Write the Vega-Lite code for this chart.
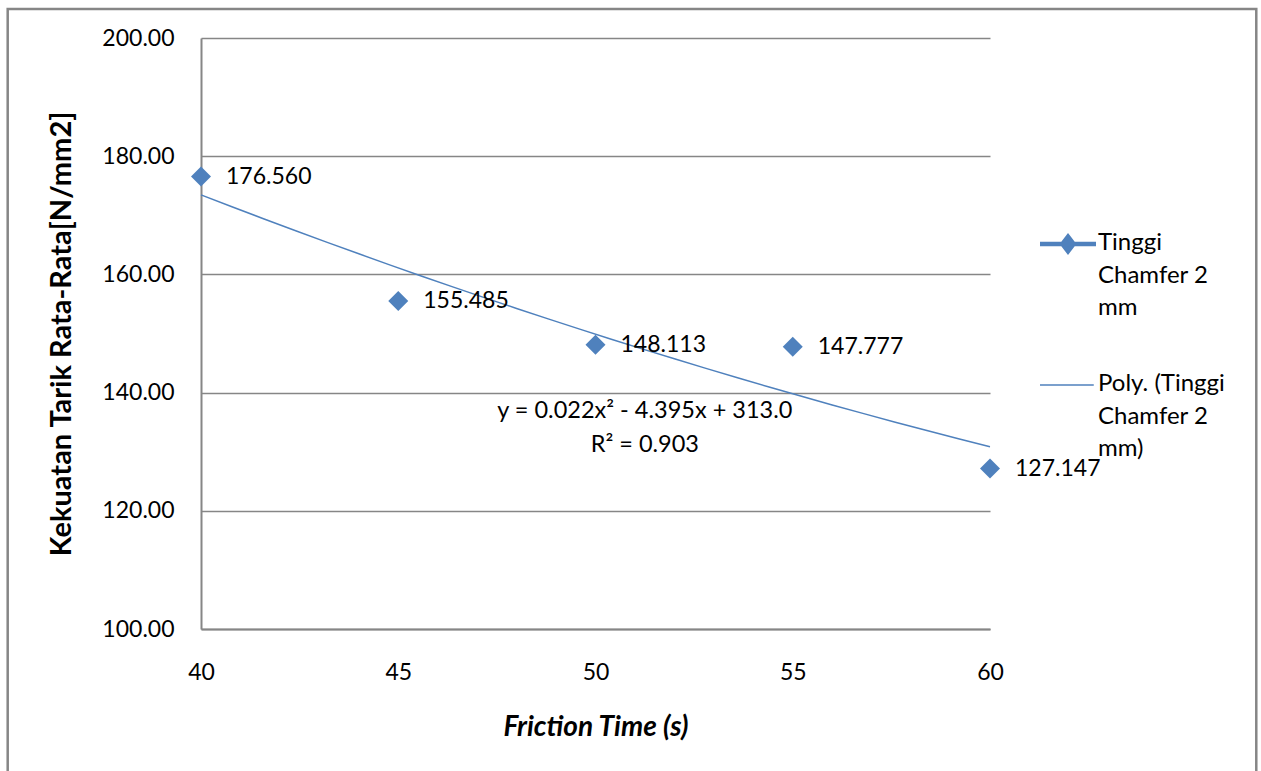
{
  "$schema": "https://vega.github.io/schema/vega-lite/v6.json",
  "autosize": {"type": "none"},
  "padding": {"left": 201, "top": 38, "right": 271, "bottom": 142},
  "width": 789,
  "height": 591,
  "background": "white",
  "config": {
    "font": "Lato",
    "view": {"stroke": null},
    "axis": {"labelFont": "Lato", "titleFont": "Lato", "labelColor": "black", "titleColor": "black"}
  },
  "data": {"values": [
    {"time": 40, "strength": 176.560},
    {"time": 45, "strength": 155.485},
    {"time": 50, "strength": 148.113},
    {"time": 55, "strength": 147.777},
    {"time": 60, "strength": 127.147}
  ]},
  "encoding": {
    "x": {
      "field": "time", "type": "quantitative",
      "scale": {"domain": [40, 60], "nice": false, "zero": false},
      "axis": {
        "values": [40, 45, 50, 55, 60], "grid": false, "ticks": false, "labelFlush": false,
        "domainColor": "#868686", "domainWidth": 2,
        "labelFontSize": 23, "labelPadding": 32,
        "title": "Friction Time (s)", "titleFontSize": 28, "titleFontWeight": "bold", "titleFontStyle": "italic",
        "titlePadding": 29
      }
    },
    "y": {
      "field": "strength", "type": "quantitative",
      "scale": {"domain": [100, 200], "nice": false, "zero": false},
      "axis": {
        "values": [100, 120, 140, 160, 180, 200], "format": ".2f", "labelFlush": false,
        "grid": true, "gridColor": "#868686", "gridWidth": 1.5, "ticks": false,
        "domainColor": "#868686", "domainWidth": 2,
        "labelFontSize": 23, "labelPadding": 27,
        "title": "Kekuatan Tarik Rata-Rata[N/mm2]", "titleFontSize": 29, "titleFontWeight": "bold",
        "titlePadding": 25
      }
    },
    "color": {
      "datum": "Tinggi Chamfer 2 mm",
      "scale": {"domain": ["Tinggi Chamfer 2 mm", "Poly. (Tinggi Chamfer 2 mm)"], "range": ["#4F81BD", "#4F81BD"]},
      "legend": {
        "title": null,
        "orient": "none", "legendX": 838, "legendY": 194,
        "padding": 0,
        "symbolSize": 3136,
        "labelFontSize": 24, "labelColor": "black", "labelOffset": 35, "labelLimit": 300,
        "labelBaseline": "top",
        "rowPadding": 52,
        "labelExpr": "datum.label == 'Tinggi Chamfer 2 mm' ? ['Tinggi', 'Chamfer 2', 'mm'] : ['Poly. (Tinggi', 'Chamfer 2', 'mm)']",
        "encode": {
          "symbols": {"update": {
            "shape": {"signal": "datum.value == 'Tinggi Chamfer 2 mm' ? 'M-1,0H1M0,-0.26L0.2,0L0,0.26L-0.2,0Z' : 'M-1,0H0.92'"},
            "size": {"value": 3136},
            "x": {"value": 29},
            "strokeWidth": {"signal": "datum.value == 'Tinggi Chamfer 2 mm' ? 4.5 : 1.5"},
            "fill": {"value": "#4F81BD"},
            "stroke": {"value": "#4F81BD"},
            "opacity": {"value": 1},
            "fillOpacity": {"value": 1},
            "strokeOpacity": {"value": 1}
          }},
          "labels": {"update": {"lineHeight": {"value": 32.5}, "dy": {"value": -13}}}
        }
      }
    }
  },
  "layer": [
    {
      "transform": [{"filter": "datum.time == 50"}],
      "mark": {"type": "rect", "fill": null, "filled": false, "stroke": "#868686", "strokeWidth": 2.5, "clip": false},
      "encoding": {
        "x": {"datum": 35.1},
        "x2": {"datum": 66.75},
        "y": {"datum": 204.9},
        "y2": {"datum": 72},
        "color": {"value": "#868686"}
      }
    },
    {
      "transform": [{"regression": "strength", "on": "time", "method": "poly", "order": 2, "extent": [40, 60]}],
      "mark": {"type": "line", "strokeWidth": 1.5, "color": "#4F81BD"},
      "encoding": {
        "color": {"datum": "Poly. (Tinggi Chamfer 2 mm)"}
      }
    },
    {
      "mark": {"type": "point", "shape": "diamond", "filled": true, "opacity": 1},
      "encoding": {"size": {"value": 400}}
    },
    {
      "mark": {"type": "text", "align": "left", "baseline": "middle", "dx": 25, "fontSize": 23, "color": "black"},
      "encoding": {
        "text": {"field": "strength", "type": "quantitative", "format": ".3f"},
        "color": {"value": "black"}
      }
    },
    {
      "transform": [{"filter": "datum.time == 50"}],
      "mark": {"type": "text", "align": "center", "baseline": "middle", "fontSize": 23.5, "color": "black"},
      "encoding": {
        "x": {"datum": 51.25},
        "y": {"datum": 136.9},
        "text": {"value": "y = 0.022x² - 4.395x + 313.0"},
        "color": {"value": "black"}
      }
    },
    {
      "transform": [{"filter": "datum.time == 50"}],
      "mark": {"type": "text", "align": "center", "baseline": "middle", "fontSize": 23.5, "color": "black"},
      "encoding": {
        "x": {"datum": 51.25},
        "y": {"datum": 131.2},
        "text": {"value": "R² = 0.903"},
        "color": {"value": "black"}
      }
    }
  ]
}
